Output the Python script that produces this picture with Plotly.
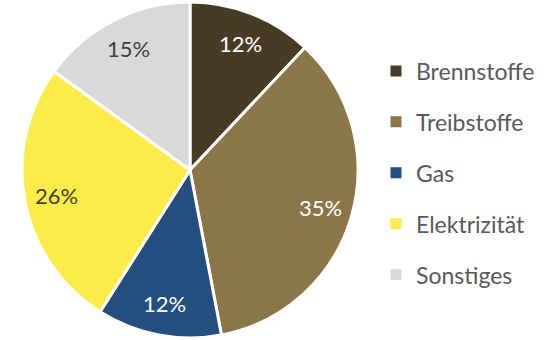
import math
import plotly.graph_objects as go

categories = ["Brennstoffe", "Treibstoffe", "Gas", "Elektrizität", "Sonstiges"]
shares = [12, 35, 12, 26, 15]
colors = ["#483B26", "#8B7647", "#234E80", "#FDEC47", "#D9D9D9"]
text_colors = ["#FFFFFF", "#FFFFFF", "#FFFFFF", "#404040", "#404040"]

FONT = "Lato"
W, H = 547, 340

# pie geometry in pixels
CX, CY, R = 190, 170, 168
LABEL_R = 0.81 * R

fig = go.Figure()
fig.add_trace(go.Pie(
    labels=categories,
    values=shares,
    sort=False,
    direction="clockwise",
    rotation=0,
    marker=dict(colors=colors, line=dict(color="#FFFFFF", width=3)),
    textinfo="none",
    showlegend=False,
    domain=dict(x=[(CX - R) / W, (CX + R) / W], y=[1 - (CY + R) / H, 1 - (CY - R) / H]),
    hoverinfo="label+percent",
))

# percentage labels placed at the angular middle of each slice
total = sum(shares)
cum = 0
for val, tc in zip(shares, text_colors):
    mid = (cum + val / 2) / total * 2 * math.pi
    cum += val
    px = CX + LABEL_R * math.sin(mid)
    py = CY - LABEL_R * math.cos(mid)
    fig.add_annotation(
        x=px / W, y=1 - py / H, xref="paper", yref="paper",
        xanchor="center", yanchor="middle",
        text=f"{val}%", showarrow=False,
        font=dict(family=FONT, size=22, color=tc),
    )

# legend entries, one per category
for name, col in zip(categories, colors):
    fig.add_trace(go.Scatter(
        x=[None], y=[None], mode="markers", name=name,
        marker=dict(symbol="square", size=11, color=col),
        legendgroup=name,
    ))

fig.update_layout(
    width=W, height=H,
    margin=dict(l=0, r=0, t=0, b=0),
    paper_bgcolor="white", plot_bgcolor="white",
    xaxis=dict(visible=False), yaxis=dict(visible=False),
    legend=dict(
        x=376 / W, y=1 - 173 / H, xanchor="left", yanchor="middle",
        font=dict(family=FONT, size=23, color="#595959"),
        tracegroupgap=18, itemwidth=30,
    ),
)

fig.write_html("out.html")
